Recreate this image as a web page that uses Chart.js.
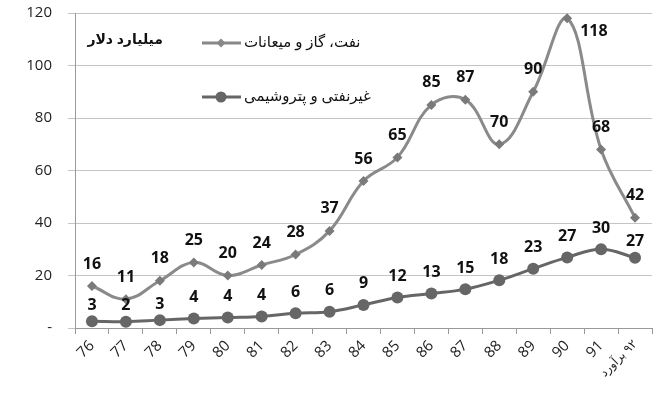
<!DOCTYPE html>
<html>
<head>
<meta charset="utf-8">
<script src="https://cdn.jsdelivr.net/npm/chart.js@4.4.1/dist/chart.umd.min.js"></script>
<style>
html,body{margin:0;padding:0;background:#fff;}
#wrap{width:658px;height:406px;position:relative;}
</style>
</head>
<body>
<div id="wrap"><canvas id="c" width="658" height="406"></canvas></div>
<script>
const categories = ['76','77','78','79','80','81','82','83','84','85','86','87','88','89','90','91','\u200F۹۲ برآورد'];
const oilGas = [16, 11, 18, 25, 20, 24, 28, 37, 56, 65, 85, 87, 70, 90, 118, 68, 42];
const nonOil = [2.6, 2.4, 3.0, 3.6, 4.0, 4.4, 5.6, 6.2, 8.8, 11.6, 13.1, 14.8, 18.2, 22.6, 26.9, 30.0, 26.8];
const yTicks = [0, 20, 40, 60, 80, 100, 120];
const seriesNames = ['نفت، گاز و میعانات', 'غیرنفتی و پتروشیمی'];
const unitTitle = 'میلیارد دلار';

const FONT = "'Open Sans', 'DejaVu Sans', sans-serif";

const labelPlugin = {
  id: 'valueLabels',
  afterDatasetsDraw(chart) {
    const ctx = chart.ctx;
    ctx.save();
    ctx.font = "bold 16px " + FONT;
    ctx.fillStyle = '#111';
    ctx.textBaseline = 'middle';
    const m0 = chart.getDatasetMeta(0).data;
    chart.data.datasets.forEach((ds, di) => {
      const meta = chart.getDatasetMeta(di);
      meta.data.forEach((pt, i) => {
        const txt = String(Math.round(ds.data[i]));
        let off = di === 0 ? 22 : 21;
        if (di === 1 && m0[i] && (pt.y - m0[i].y) < 40) off = 16;
        let x = pt.x, y = pt.y - off;
        ctx.textAlign = 'center';
        if (y < chart.chartArea.top + 4) {
          x = pt.x + 13; y = pt.y + 13; ctx.textAlign = 'left';
        }
        ctx.fillText(txt, x, y);
      });
    });
    ctx.restore();
  }
};

const legendPlugin = {
  id: 'customLegend',
  afterDraw(chart) {
    const ctx = chart.ctx;
    ctx.save();
    ctx.font = "bold 14px " + FONT;
    ctx.fillStyle = '#111';
    ctx.textBaseline = 'middle';
    ctx.textAlign = 'right';
    ctx.direction = 'rtl';
    ctx.fillText(unitTitle, 163, 40);
    const items = [
      {y: 43, color: '#888', marker: 'diamond', text: seriesNames[0]},
      {y: 97, color: '#666', marker: 'circle', text: seriesNames[1]}
    ];
    items.forEach(it => {
      ctx.strokeStyle = it.color;
      ctx.lineWidth = 3;
      ctx.beginPath();
      ctx.moveTo(202, it.y); ctx.lineTo(241, it.y);
      ctx.stroke();
      ctx.fillStyle = it.color;
      ctx.beginPath();
      if (it.marker === 'diamond') {
        ctx.moveTo(221, it.y - 4.5); ctx.lineTo(225.5, it.y); ctx.lineTo(221, it.y + 4.5); ctx.lineTo(216.5, it.y);
        ctx.closePath();
      } else {
        ctx.arc(221, it.y, 5.5, 0, Math.PI * 2);
      }
      ctx.fill();
      ctx.font = "15px " + FONT;
      ctx.fillStyle = '#111';
      ctx.textAlign = 'left';
      ctx.fillText(it.text, 244, it.y);
    });
    ctx.restore();
  }
};

new Chart(document.getElementById('c'), {
  type: 'line',
  data: {
    labels: categories,
    datasets: [
      {
        label: seriesNames[0],
        data: oilGas,
        borderColor: '#8a8a8a',
        backgroundColor: '#7a7a7a',
        borderWidth: 3,
        pointStyle: 'rectRot',
        pointRadius: 5,
        pointBorderWidth: 0,
        pointBackgroundColor: '#7a7a7a',
        tension: 0.4,
        fill: false
      },
      {
        label: seriesNames[1],
        data: nonOil,
        borderColor: '#666',
        backgroundColor: '#666',
        borderWidth: 3,
        pointStyle: 'circle',
        pointRadius: 6,
        pointBorderWidth: 0,
        pointBackgroundColor: '#666',
        tension: 0.4,
        fill: false
      }
    ]
  },
  options: {
    responsive: false,
    animation: false,
    devicePixelRatio: 1,
    layout: {padding: {top: 13, right: 1, left: 0, bottom: 0}},
    plugins: {legend: {display: false}, tooltip: {enabled: false}, title: {display: false}},
    scales: {
      x: {
        offset: true,
        grid: {display: true, drawOnChartArea: false, drawTicks: true, tickLength: 6, color: '#999', offset: true},
        border: {display: true, color: '#999', width: 1},
        ticks: {
          minRotation: 45, maxRotation: 45, padding: 3, autoSkip: false,
          color: '#222',
          font: (c) => ({family: FONT, size: (c.index === categories.length - 1 ? 12 : 15)})
        },
        afterFit: (s) => { s.height = 78; s.paddingLeft = 0; s.paddingRight = 0; }
      },
      y: {
        min: 0, max: 120,
        afterBuildTicks: (s) => { s.ticks = yTicks.map(v => ({value: v})); },
        grid: {color: '#c4c4c4', lineWidth: 1, tickLength: 7, drawTicks: true},
        border: {display: true, color: '#999', width: 1},
        ticks: {
          padding: 16, color: '#222',
          font: {family: FONT, size: 15},
          callback: (v) => v === 0 ? '-' : String(v)
        },
        afterFit: (s) => { s.width = 75; s.paddingTop = 0; s.paddingBottom = 0; }
      }
    }
  },
  plugins: [labelPlugin, legendPlugin]
});
</script>
</body>
</html>
